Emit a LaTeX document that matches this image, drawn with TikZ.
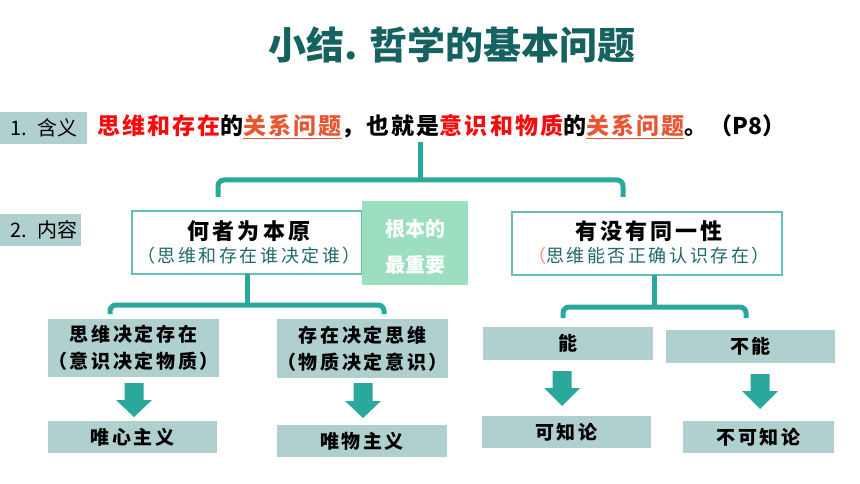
\documentclass[tikz,border=0pt]{standalone}
\usepackage{fontspec}
\setmainfont{Noto Sans CJK SC}
\newfontfamily\spA[LetterSpace=9]{Noto Sans CJK SC}
\newfontfamily\spB[LetterSpace=14]{Noto Sans CJK SC}
\definecolor{tealline}{RGB}{42,168,155}
\definecolor{boxfill}{RGB}{176,208,207}
\definecolor{mint}{RGB}{155,223,192}
\definecolor{titlec}{RGB}{22,98,96}
\definecolor{dteal}{RGB}{31,105,105}
\definecolor{hired}{RGB}{250,10,10}
\definecolor{orng}{RGB}{232,85,50}
\definecolor{salmon}{RGB}{240,140,115}
\definecolor{bord}{RGB}{100,192,182}
\newcommand{\fsz}[1]{\fontsize{#1}{#1}\selectfont}
\newcommand{\ul}[1]{\textcolor{orng}{\underline{#1}}}
\begin{document}
\begin{tikzpicture}[x=1pt,y=-1pt,
  lblbox/.style={fill=boxfill, inner sep=0pt, text width=#1, align=left, minimum height=32pt, font=\fsz{20}},
  gbox/.style={fill=boxfill, inner sep=0pt, align=center, font=\spB\bfseries\fontsize{19}{27}\selectfont},
  wbox/.style={fill=white, draw=bord, line width=1.2pt, inner sep=0pt, align=center},
  bracket/.style={draw=tealline, line width=5pt, rounded corners=6pt},
  fat/.style={fill=tealline}
]
\useasboundingbox (0,0) rectangle (860,484);

% title
\node[font=\bfseries\fsz{38}, text=titlec] (title) at (452,45) {小结. 哲学的基本问题};

% labels
\node[lblbox=80pt, minimum width=87pt, anchor=west] (lab1) at (0,128) {\hspace*{7pt}1. 含义};
\node[lblbox=74pt, minimum width=81pt, anchor=west] (lab2) at (0,229.5) {\hspace*{7pt}2. 内容};

% line 1
\node[anchor=west, inner sep=0pt, font=\bfseries\fsz{23}] (line1) at (97,127)
 {\spA\textcolor{hired}{思维和存在}的\ul{关系问题}，也就是\textcolor{hired}{意识和物质}的\ul{关系问题}。（\rmfamily\bfseries P8\spA）};

% level 2
\node[wbox, minimum width=230pt, minimum height=63pt] (q1) at (247,242.5) {};
\node[font=\spB\bfseries\fsz{22}] at (249,231) {何者为本原};
\node[font=\spB\fsz{18}, text=dteal] at (249,256) {（思维和存在谁决定谁）};

\node[fill=mint, minimum width=106pt, minimum height=84pt, inner sep=0pt] (key) at (415,243) {};
\node[font=\bfseries\fsz{20}, text=white] at (415,229) {根本的};
\node[font=\bfseries\fsz{20}, text=white] at (415,265) {最重要};

\node[wbox, minimum width=270pt, minimum height=63pt] (q2) at (647,243.5) {};
\node[font=\spB\bfseries\fsz{22}] at (649,231) {有没有同一性};
\node[font=\spB\fsz{18}, text=dteal] at (649,256) {\textcolor{salmon}{（}思维能否正确认识存在）};

% bracket 1
\coordinate (s1) at (420,142);
\coordinate (h1) at (420,180);
\coordinate (l1) at (218,197);
\coordinate (r1) at (623,197);
\draw[bracket] (l1) -- (l1 |- h1) -- (r1 |- h1) -- (r1);
\draw[draw=tealline, line width=5pt] (s1) -- (h1);

% level 3 left
\node[gbox, minimum width=169pt, minimum height=58pt] (a1) at (133.5,348) {思维决定存在\\（意识决定物质）};
\node[gbox, minimum width=169pt, minimum height=59pt] (a2) at (362.5,348.5) {存在决定思维\\（物质决定意识）};
\node[gbox, minimum width=169pt, minimum height=32pt] (r1b) at (132.5,437) {唯心主义};
\node[gbox, minimum width=170pt, minimum height=32pt] (r2b) at (362,441) {唯物主义};

\coordinate (s2) at (247,274);
\coordinate (h2) at (247,305);
\coordinate (l2) at (110,314);
\coordinate (r2) at (384,314);
\draw[bracket] (l2) -- (l2 |- h2) -- (r2 |- h2) -- (r2);
\draw[draw=tealline, line width=5pt] (s2) -- (h2);

% level 3 right
\node[gbox, minimum width=170pt, minimum height=33pt] (b1) at (568,343.5) {能};
\node[gbox, minimum width=169pt, minimum height=33pt] (b2) at (750.5,346.5) {不能};
\node[gbox, minimum width=169pt, minimum height=32pt] (rb1) at (566.5,432) {可知论};
\node[gbox, minimum width=151pt, minimum height=32pt] (rb2) at (758.5,437) {不可知论};

\coordinate (s3) at (654,275);
\coordinate (h3) at (654,307);
\coordinate (l3) at (563,318);
\coordinate (r3) at (746,318);
\draw[bracket] (l3) -- (l3 |- h3) -- (r3 |- h3) -- (r3);
\draw[draw=tealline, line width=5pt] (s3) -- (h3);

% fat arrows
\fill[fat] (124.5,383) -- (143.5,383) -- (143.5,400) -- (152,400) -- (134,417) -- (116,400) -- (124.5,400) -- cycle;
\fill[fat] (353.5,383) -- (372.5,383) -- (372.5,401) -- (381,401) -- (363,418) -- (345,401) -- (353.5,401) -- cycle;
\fill[fat] (552.5,371) -- (571.5,371) -- (571.5,388) -- (580,388) -- (562,406) -- (544,388) -- (552.5,388) -- cycle;
\fill[fat] (750.5,374) -- (769.5,374) -- (769.5,391) -- (778,391) -- (760,409) -- (742,391) -- (750.5,391) -- cycle;
\end{tikzpicture}
\end{document}
